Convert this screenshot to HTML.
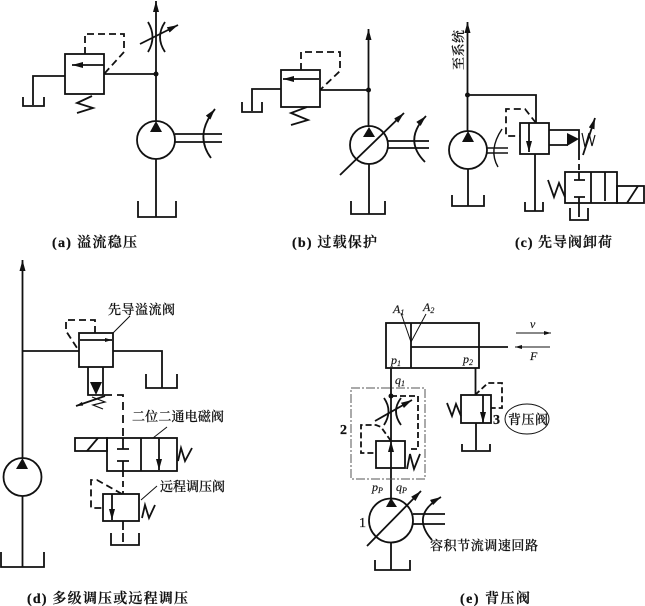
<!DOCTYPE html>
<html><head><meta charset="utf-8"><style>
html,body{margin:0;padding:0;background:#fff}
svg{display:block;filter:blur(0.35px)}
text{font-family:"Liberation Serif","Noto Serif CJK SC",serif;fill:#111}
.c{font-size:14px;font-weight:600;stroke:#111;stroke-width:.25}
.l{font-size:13px;font-weight:500;stroke:#111;stroke-width:.2}
.i{font-style:italic;font-size:12px;stroke:#111;stroke-width:.15}
</style></head><body>
<svg width="645" height="606" viewBox="0 0 645 606" xmlns="http://www.w3.org/2000/svg">
<defs>
<marker id="a" markerUnits="userSpaceOnUse" markerWidth="12" markerHeight="8" refX="11" refY="3" orient="auto"><path d="M0 0L11 3L0 6z" fill="#111"/></marker>
<marker id="s" markerUnits="userSpaceOnUse" markerWidth="8" markerHeight="6" refX="7" refY="2" orient="auto"><path d="M0 0L7 2L0 4z" fill="#111"/></marker>
</defs>
<g fill="none" stroke="#111" stroke-width="1.8">
<!-- a -->
<path d="M156 121V1" marker-end="url(#a)"/>
<circle cx="156" cy="140" r="19"/>
<path d="M156 159V217M138 201V217H176V201"/>
<rect x="65" y="54" width="39" height="40"/>
<path d="M104 65H72" marker-end="url(#a)"/>
<path d="M104 74H156M65 76H33V105M23 97V106H44V97"/>
<path d="M85 54V34H124V52L104 74" stroke-dasharray="7 4"/>
<path d="M92 96L77 103L93 108L77 113"/>
<path d="M148 22Q157 37 148 52M165 22Q155 37 165 52"/>
<path d="M140 44L178 25" marker-end="url(#a)"/>
<path d="M175 134H222M175 142H222"/>
<path d="M211 158Q194 135 215 109" marker-end="url(#a)"/>
<!-- b -->
<path d="M368.500 127V29" marker-end="url(#a)"/>
<circle cx="369" cy="145" r="19"/>
<path d="M369 164V214M351 201V214H385V201"/>
<rect x="281" y="70" width="39" height="37"/>
<path d="M319 79H283" marker-end="url(#a)"/>
<path d="M320 90H368M281 89H252V111M242 102V112H262V102"/>
<path d="M301 70V52H340V71L320 90" stroke-dasharray="7 4"/>
<path d="M307 107L291 113L308 120L291 125"/>
<path d="M340 175L404 113" marker-end="url(#a)"/>
<path d="M388 141H429M388 148H429"/>
<path d="M425 162Q403 140 426 116" marker-end="url(#a)"/>
<!-- c -->
<path d="M467.500 131V22" marker-end="url(#a)"/>
<circle cx="468" cy="150" r="19"/>
<path d="M468 169V206M452 195V206H484V195"/>
<path d="M467 95H536V123"/>
<rect x="520" y="123" width="29" height="31"/>
<path d="M529 123V152" marker-end="url(#a)"/>
<path d="M536 123L525 109H506V136H520" stroke-dasharray="7 4"/>
<path d="M535 154V211M525 202V211H543V202"/>
<path d="M487 148H508M487 153H508M498 167Q488 150 502 129" stroke-width="1.400"/>
<path d="M549 130H579V154M549 145H568"/>
<path d="M579 154V172" stroke-dasharray="6 4"/>
<path d="M582 133L585 147L589 133L592 146L595 135" stroke-width="1.200"/>
<path d="M583 155L595 118" marker-end="url(#a)"/>
<rect x="565" y="172" width="52" height="31"/>
<path d="M591 172V203M605 172V201" />
<rect x="617" y="186" width="27" height="17"/>
<path d="M627 203L638 186M548 180L554 197L559 183L565 197"/>
<path d="M579 172V180M574 180H585M574 197H585M579 197V217M570 208V220H588V208"/>
<!-- d -->
<path d="M22.500 458V260" marker-end="url(#a)"/>
<circle cx="22.500" cy="477" r="19"/>
<path d="M22.500 496V567M1 552V567H44V552"/>
<path d="M22 351H79"/>
<rect x="79" y="333" width="34" height="34"/>
<path d="M80 340H112" marker-end="url(#s)"/>
<path d="M95 333V320H66V331L79 351" stroke-dasharray="7 4"/>
<path d="M113 351H162V388M146 374V388H177V374"/>
<path d="M88 367V395H103V367"/>
<path d="M104 395H123V440" stroke-dasharray="8 5"/>
<path d="M105 396L76 406" marker-end="url(#s)"/>
<path d="M92 397L105 402L93 405L103 409" stroke-width="1.200"/>
<rect x="107" y="438" width="70" height="33"/>
<path d="M141 438V471M123 438V449M117 449H129M117 461H129M123 461V471"/>
<path d="M159 438V470" marker-end="url(#a)"/>
<rect x="75" y="438" width="32" height="13"/>
<path d="M87 451L98 438M178 461L181 448L185 461L192 448"/>
<path d="M123 471V494" stroke-dasharray="6 4"/>
<rect x="103" y="494" width="36" height="27"/>
<path d="M112 494V520" marker-end="url(#a)"/>
<path d="M122 494L97 480H91V508H103" stroke-dasharray="7 4"/>
<path d="M123 521V545" stroke-dasharray="9 3"/>
<path d="M111 533V545H139V533"/>
<path d="M142 518L145 505L149 518L155 505"/>
<g stroke-width="1"><path d="M113 333L130 316M153 438L167 427M141 500L157 486"/></g>
<!-- e -->
<rect x="386" y="323" width="93" height="45"/>
<path d="M411 323V368M411 347H508"/>
<path d="M401 313L411 342L426 314" stroke-width="1"/>
<path d="M516 333H551" stroke-width="1" marker-end="url(#s)"/>
<path d="M550 347H515" stroke-width="1" marker-end="url(#s)"/>
<path d="M391 368V498"/>
<rect x="351" y="388" width="74" height="91" stroke="#555" stroke-width="1" stroke-dasharray="9 2 2 2"/>
<path d="M384 398Q393 411 384 425M401 398Q391 411 401 425"/>
<path d="M375 421L412 400" marker-end="url(#a)"/>
<path d="M391 396H418V449H408" stroke-dasharray="6 3"/>
<rect x="376" y="441" width="29" height="27"/>
<path d="M391 441L381 427L376 425H361V453H376" stroke-dasharray="6 3"/>
<path d="M407 469L410 454L414 469L420 454"/>
<circle cx="391" cy="520.500" r="22"/>
<path d="M367 546L421 491" marker-end="url(#a)"/>
<path d="M413 514H445M413 524H445"/>
<path d="M432 540Q410 515 441 497" marker-end="url(#a)"/>
<path d="M391 543V570M375 560V570H410V560"/>
<path d="M475.500 368V395"/>
<rect x="461" y="395" width="30" height="28"/>
<path d="M483 395V423" marker-end="url(#a)"/>
<path d="M475 395L488 383H502V408H491" stroke-dasharray="6 3"/>
<path d="M447 403L452 416L456 404L461 416"/>
<path d="M476 423V450M462 444V451H490V444"/>
<ellipse cx="527" cy="419" rx="22" ry="15" stroke-width="1"/>
</g>
<g fill="#111" stroke="none">
<circle cx="156" cy="74" r="2.500"/><circle cx="368.500" cy="90" r="2.500"/><circle cx="467.500" cy="95" r="2.500"/><circle cx="391" cy="396" r="2.500"/>
<path d="M156 121L150 132H162zM369 127L363 137H375zM468 131L462 142H474zM22.500 458L16 469H28zM391 498L386 507H397zM90 382H102L96 395zM567 133V146L579 139z"/>
<path d="M391 441L388 452H394z"/>
</g>
<text class="c" x="52" y="247" textLength="85" lengthAdjust="spacing">(a) 溢流稳压</text>
<text class="c" x="292" y="247" textLength="85" lengthAdjust="spacing">(b) 过载保护</text>
<text class="c" x="515" y="247" textLength="97" lengthAdjust="spacing">(c) 先导阀卸荷</text>
<text class="c" x="27" y="603" textLength="161" lengthAdjust="spacing">(d) 多级调压或远程调压</text>
<text class="c" x="460" y="603" textLength="70" lengthAdjust="spacing">(e) 背压阀</text>
<text class="l" transform="translate(463,70) rotate(-90)" textLength="40">至系统</text>
<text class="l" x="108" y="314" textLength="67">先导溢流阀</text>
<text class="l" x="132" y="421" textLength="92">二位二通电磁阀</text>
<text class="l" x="160" y="491" textLength="65">远程调压阀</text>
<text class="l" x="508" y="424" textLength="40">背压阀</text>
<text class="l" x="430" y="550" textLength="108">容积节流调速回路</text>
<text class="c" x="340" y="434">2</text>
<text class="c" x="493" y="424">3</text>
<text class="c" x="359" y="527" style="font-weight:400">1</text>
<text class="i" x="393" y="313">A<tspan font-size="8" dy="2">1</tspan></text>
<text class="i" x="423" y="311">A<tspan font-size="8" dy="2">2</tspan></text>
<text class="i" x="391" y="364">p<tspan font-size="8" dy="2">1</tspan></text>
<text class="i" x="463" y="363">p<tspan font-size="8" dy="2">2</tspan></text>
<text class="i" x="395" y="384">q<tspan font-size="8" dy="2">1</tspan></text>
<text class="i" x="372" y="491">p<tspan font-size="8" dy="2">P</tspan></text>
<text class="i" x="396" y="491">q<tspan font-size="8" dy="2">P</tspan></text>
<text class="i" x="530" y="328">v</text>
<text class="i" x="530" y="360">F</text>
</svg>
</body></html>
